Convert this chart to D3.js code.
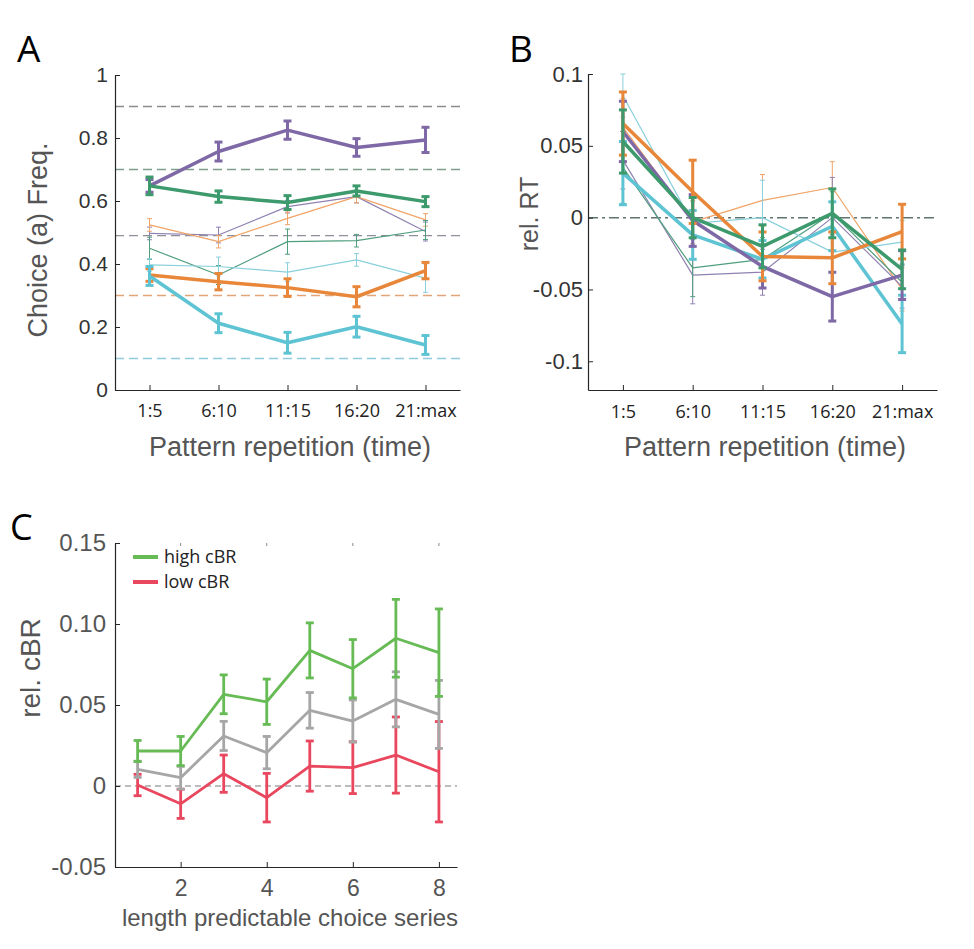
<!DOCTYPE html>
<html><head><meta charset="utf-8">
<script src="https://cdn.jsdelivr.net/npm/d3@7/dist/d3.min.js"></script>
<style>body{margin:0;background:#fff}svg{display:block}</style>
</head><body>
<script>
// ---------- DATA ----------
const categories = ["1:5","6:10","11:15","16:20","21:max"];
const aYTicks = [0,0.2,0.4,0.6,0.8,1];
const aYTickLabels = ["0","0.2","0.4","0.6","0.8","1"];
const bYTicks = [-0.1,-0.05,0,0.05,0.1];
const bYTickLabels = ["-0.1","-0.05","0","0.05","0.1"];
const cXTicks = [2,4,6,8];
const cYTicks = [-0.05,0,0.05,0.10,0.15];
const cYTickLabels = ["-0.05","0","0.05","0.10","0.15"];

// Panel A reference levels
const aRefLevels = [0.9,0.7,0.49,0.3,0.1];
const aRefColors = ["#8c8c8c","#7f9e8e","#8f8f9c","#e2a57a","#8fcadd"];

// Panel A series (thick)
const aPurpleThick = [0.648,0.757,0.825,0.770,0.794];
const aPurpleThickErr = [0.02,0.03,0.029,0.028,0.04];
const aGreenThick = [0.648,0.614,0.595,0.632,0.598];
const aGreenThickErr = [0.028,0.018,0.022,0.016,0.016];
const aOrangeThick = [0.365,0.344,0.325,0.296,0.379];
const aOrangeThickErr = [0.02,0.026,0.028,0.032,0.026];
const aCyanThick = [0.362,0.212,0.150,0.201,0.143];
const aCyanThickErr = [0.03,0.03,0.033,0.033,0.03];
// Panel A series (thin)
const aPurpleThin = [0.497,0.492,0.582,0.614,0.503];
const aPurpleThinErr = [0.02,0.025,0.02,0.02,0.03];
const aOrangeThin = [0.524,0.471,0.545,0.614,0.540];
const aOrangeThinErr = [0.02,0.02,0.02,0.02,0.02];
const aGreenThin = [0.450,0.365,0.471,0.474,0.508];
const aGreenThinErr = [0.035,0.03,0.04,0.02,0.03];
const aCyanThin = [0.397,0.392,0.374,0.413,0.355];
const aCyanThinErr = [0.02,0.03,0.03,0.02,0.045];

// Panel B series (thick)
const bOrangeThick = [0.0655,0.018,-0.027,-0.028,-0.0097];
const bOrangeThickErr = [0.022,0.022,0.017,0.018,0.019];
const bPurpleThick = [0.060,-0.002,-0.034,-0.055,-0.040];
const bPurpleThickErr = [0.021,0.018,0.015,0.017,0.017];
const bGreenThick = [0.053,0.000,-0.020,0.003,-0.036];
const bGreenThickErr = [0.022,0.014,0.015,0.017,0.0135];
const bCyanThick = [0.031,-0.012,-0.029,-0.006,-0.074];
const bCyanThickErr = [0.022,0.017,0.013,0.017,0.02];
// Panel B series (thin)
const bOrangeThin = [0.063,-0.003,0.012,0.021,-0.050];
const bOrangeThinErr = [0.02,0.015,0.018,0.018,0.015];
const bPurpleThin = [0.040,-0.040,-0.038,0.000,-0.048];
const bPurpleThinErr = [0.02,0.02,0.016,0.028,0.015];
const bGreenThin = [0.035,-0.035,-0.029,0.003,-0.045];
const bGreenThinErr = [0.025,0.02,0.015,0.015,0.012];
const bCyanThin = [0.085,-0.004,0.000,-0.024,-0.017];
const bCyanThinErr = [0.015,0.015,0.026,0.015,0.015];

// Panel C series
const cX = [1,2,3,4,5,6,7,8];
const cHigh = [0.0216,0.0216,0.0566,0.052,0.0837,0.0724,0.0912,0.0823];
const cHighErr = [0.0065,0.009,0.012,0.014,0.017,0.018,0.024,0.027];
const cMid = [0.0103,0.0051,0.0309,0.0206,0.0467,0.0401,0.0535,0.0442];
const cMidErr = [0.005,0.007,0.009,0.01,0.011,0.013,0.017,0.021];
const cLow = [0.0006,-0.011,0.0076,-0.0072,0.0123,0.0113,0.0191,0.0088];
const cLowErr = [0.0066,0.009,0.0115,0.015,0.0155,0.016,0.0235,0.031];
const cLegend = ["high cBR","low cBR"];

// ---------- COLORS ----------
const col = {
  purple:"#7e68a6", green:"#3c9a6c", orange:"#e8873a", cyan:"#5ec3d2",
  purpleT:"#8f82b2", greenT:"#4f9e7e", orangeT:"#f0a468", cyanT:"#8ad0dc",
  cGreen:"#66bb55", cGray:"#a6a6a6", cRed:"#e8475e"
};
const SANS = "'Liberation Sans', Arial, Helvetica, sans-serif";
const CAL = "'Open Sans', 'Noto Sans', sans-serif";

const svg = d3.select("body").append("svg").attr("width",974).attr("height",949);

function styleAxis(g, fontSize, family, color){
  g.select(".domain").attr("stroke","#262626").attr("stroke-width",1.2);
  g.selectAll(".tick line").attr("stroke","#262626").attr("stroke-width",1);
  g.selectAll(".tick text").attr("font-size",fontSize).attr("font-family",family).attr("fill",color);
}

function drawSeries(g, x, y, xs, vals, errs, color, lw, elw, cap){
  const pts = xs.map((xv,i)=>({x:xv,v:vals[i],e:errs[i]}));
  const eg = g.append("g");
  pts.forEach(p=>{
    eg.append("line").attr("x1",x(p.x)).attr("x2",x(p.x)).attr("y1",y(p.v-p.e)).attr("y2",y(p.v+p.e))
      .attr("stroke",color).attr("stroke-width",elw);
    [p.v-p.e,p.v+p.e].forEach(c=>{
      eg.append("line").attr("x1",x(p.x)-cap).attr("x2",x(p.x)+cap).attr("y1",y(c)).attr("y2",y(c))
        .attr("stroke",color).attr("stroke-width",elw);
    });
  });
  g.append("path").datum(pts)
    .attr("d",d3.line().x(p=>x(p.x)).y(p=>y(p.v)))
    .attr("fill","none").attr("stroke",color).attr("stroke-width",lw).attr("stroke-linejoin","round");
}

const idx = [1,2,3,4,5];

// ---------- PANEL A ----------
{
  const x = d3.scaleLinear().domain([0.5,5.5]).range([115,460]);
  const y = d3.scaleLinear().domain([0,1]).range([390,75]);
  const g = svg.append("g");
  aRefLevels.forEach((lv,i)=>{
    g.append("line").attr("x1",x(0.5)).attr("x2",x(5.5)).attr("y1",y(lv)).attr("y2",y(lv))
      .attr("stroke",aRefColors[i]).attr("stroke-width",1.4).attr("stroke-dasharray","9,5");
  });
  const thin = [[aPurpleThin,aPurpleThinErr,col.purpleT],[aOrangeThin,aOrangeThinErr,col.orangeT],
                [aGreenThin,aGreenThinErr,col.greenT],[aCyanThin,aCyanThinErr,col.cyanT]];
  thin.forEach(s=>drawSeries(g,x,y,idx,s[0],s[1],s[2],1.2,1,2.5));
  const thick = [[aPurpleThick,aPurpleThickErr,col.purple],[aGreenThick,aGreenThickErr,col.green],
                 [aOrangeThick,aOrangeThickErr,col.orange],[aCyanThick,aCyanThickErr,col.cyan]];
  thick.forEach(s=>drawSeries(g,x,y,idx,s[0],s[1],s[2],3.5,3,4));
  const ya = g.append("g").attr("transform","translate(115,0)")
    .call(d3.axisLeft(y).tickValues(aYTicks).tickFormat((d,i)=>aYTickLabels[i]).tickSize(-5).tickSizeOuter(0).tickPadding(7));
  styleAxis(ya,21,SANS,"#333");
  const xa = g.append("g").attr("transform","translate(0,390)")
    .call(d3.axisBottom(x).tickValues(idx).tickFormat(i=>categories[i-1]).tickSize(-5).tickSizeOuter(0).tickPadding(14));
  styleAxis(xa,18,CAL,"#222");
  g.append("text").attr("x",290).attr("y",456).attr("text-anchor","middle").attr("font-family",SANS)
    .attr("font-size",27).attr("fill","#555").text("Pattern repetition (time)");
  g.append("text").attr("transform","translate(47,240) rotate(-90)").attr("text-anchor","middle").attr("font-family",SANS)
    .attr("font-size",27).attr("fill","#555").text("Choice (a) Freq.");
  g.append("text").attr("x",17).attr("y",62).attr("font-family",CAL).attr("font-size",37).attr("fill","#000").text("A");
}

// ---------- PANEL B ----------
{
  const x = d3.scaleLinear().domain([0.5,5.5]).range([588,937]);
  const y = d3.scaleLinear().domain([-0.12,0.1]).range([390,74]);
  const g = svg.append("g");
  g.append("line").attr("x1",x(0.5)).attr("x2",x(5.5)).attr("y1",y(0)).attr("y2",y(0))
    .attr("stroke","#5e7570").attr("stroke-width",1.5).attr("stroke-dasharray","10,4,3,4");
  const thin = [[bOrangeThin,bOrangeThinErr,col.orangeT],[bPurpleThin,bPurpleThinErr,col.purpleT],
                [bGreenThin,bGreenThinErr,col.greenT],[bCyanThin,bCyanThinErr,col.cyanT]];
  thin.forEach(s=>drawSeries(g,x,y,idx,s[0],s[1],s[2],1.2,1,2.5));
  const thick = [[bCyanThick,bCyanThickErr,col.cyan],[bPurpleThick,bPurpleThickErr,col.purple],
                 [bOrangeThick,bOrangeThickErr,col.orange],[bGreenThick,bGreenThickErr,col.green]];
  thick.forEach(s=>drawSeries(g,x,y,idx,s[0],s[1],s[2],3.5,3,4));
  const ya = g.append("g").attr("transform","translate(588,0)")
    .call(d3.axisLeft(y).tickValues(bYTicks).tickFormat((d,i)=>bYTickLabels[i]).tickSize(-5).tickSizeOuter(0).tickPadding(5));
  styleAxis(ya,22,SANS,"#333");
  const xa = g.append("g").attr("transform","translate(0,390)")
    .call(d3.axisBottom(x).tickValues(idx).tickFormat(i=>categories[i-1]).tickSize(-5).tickSizeOuter(0).tickPadding(15));
  styleAxis(xa,18,CAL,"#222");
  g.append("text").attr("x",765).attr("y",456).attr("text-anchor","middle").attr("font-family",SANS)
    .attr("font-size",27).attr("fill","#555").text("Pattern repetition (time)");
  g.append("text").attr("transform","translate(538,214) rotate(-90)").attr("text-anchor","middle").attr("font-family",SANS)
    .attr("font-size",25).attr("fill","#555").text("rel. RT");
  g.append("text").attr("x",509).attr("y",62).attr("font-family",CAL).attr("font-size",37).attr("fill","#000").text("B");
}

// ---------- PANEL C ----------
{
  const x = d3.scaleLinear().domain([0.475,8.42]).range([115,457]);
  const y = d3.scaleLinear().domain([-0.05,0.15]).range([867,543]);
  const g = svg.append("g");
  g.append("line").attr("x1",x(0.475)).attr("x2",x(8.42)).attr("y1",y(0)).attr("y2",y(0))
    .attr("stroke","#7a7a7a").attr("stroke-width",1.2).attr("stroke-dasharray","6,4");
  // top ticks (no axis line)
  cXTicks.forEach(t=>{
    g.append("line").attr("x1",x(t)).attr("x2",x(t)).attr("y1",y(0.15)).attr("y2",y(0.15)+3)
      .attr("stroke","#888").attr("stroke-width",1);
  });
  drawSeries(g,x,y,cX,cLow,cLowErr,col.cRed,2.8,2.8,4);
  drawSeries(g,x,y,cX,cMid,cMidErr,col.cGray,2.8,2.8,4);
  drawSeries(g,x,y,cX,cHigh,cHighErr,col.cGreen,2.8,2.8,4);
  const ya = g.append("g").attr("transform","translate(115,0)")
    .call(d3.axisLeft(y).tickValues(cYTicks).tickFormat((d,i)=>cYTickLabels[i]).tickSize(-5).tickSizeOuter(0).tickPadding(9));
  styleAxis(ya,24,SANS,"#555");
  const xa = g.append("g").attr("transform","translate(0,867)")
    .call(d3.axisBottom(x).tickValues(cXTicks).tickFormat(d3.format("d")).tickSize(-5).tickSizeOuter(0).tickPadding(13));
  styleAxis(xa,23,SANS,"#555");
  g.append("text").attr("x",290).attr("y",926).attr("text-anchor","middle").attr("font-family",SANS)
    .attr("font-size",24).attr("fill","#555").text("length predictable choice series");
  g.append("text").attr("transform","translate(40,668) rotate(-90)").attr("text-anchor","middle").attr("font-family",SANS)
    .attr("font-size",28).attr("fill","#555").text("rel. cBR");
  g.append("text").attr("x",10).attr("y",540).attr("font-family",CAL).attr("font-size",36).attr("fill","#000").text("C");
  // legend
  const legCols = [col.cGreen, col.cRed];
  cLegend.forEach((t,i)=>{
    const ly = 557 + i*25;
    g.append("line").attr("x1",133).attr("x2",158).attr("y1",ly).attr("y2",ly).attr("stroke",legCols[i]).attr("stroke-width",4);
    g.append("text").attr("x",164).attr("y",ly+6).attr("font-family",CAL).attr("font-size",18).attr("fill","#222").text(t);
  });
}
</script>
</body></html>
